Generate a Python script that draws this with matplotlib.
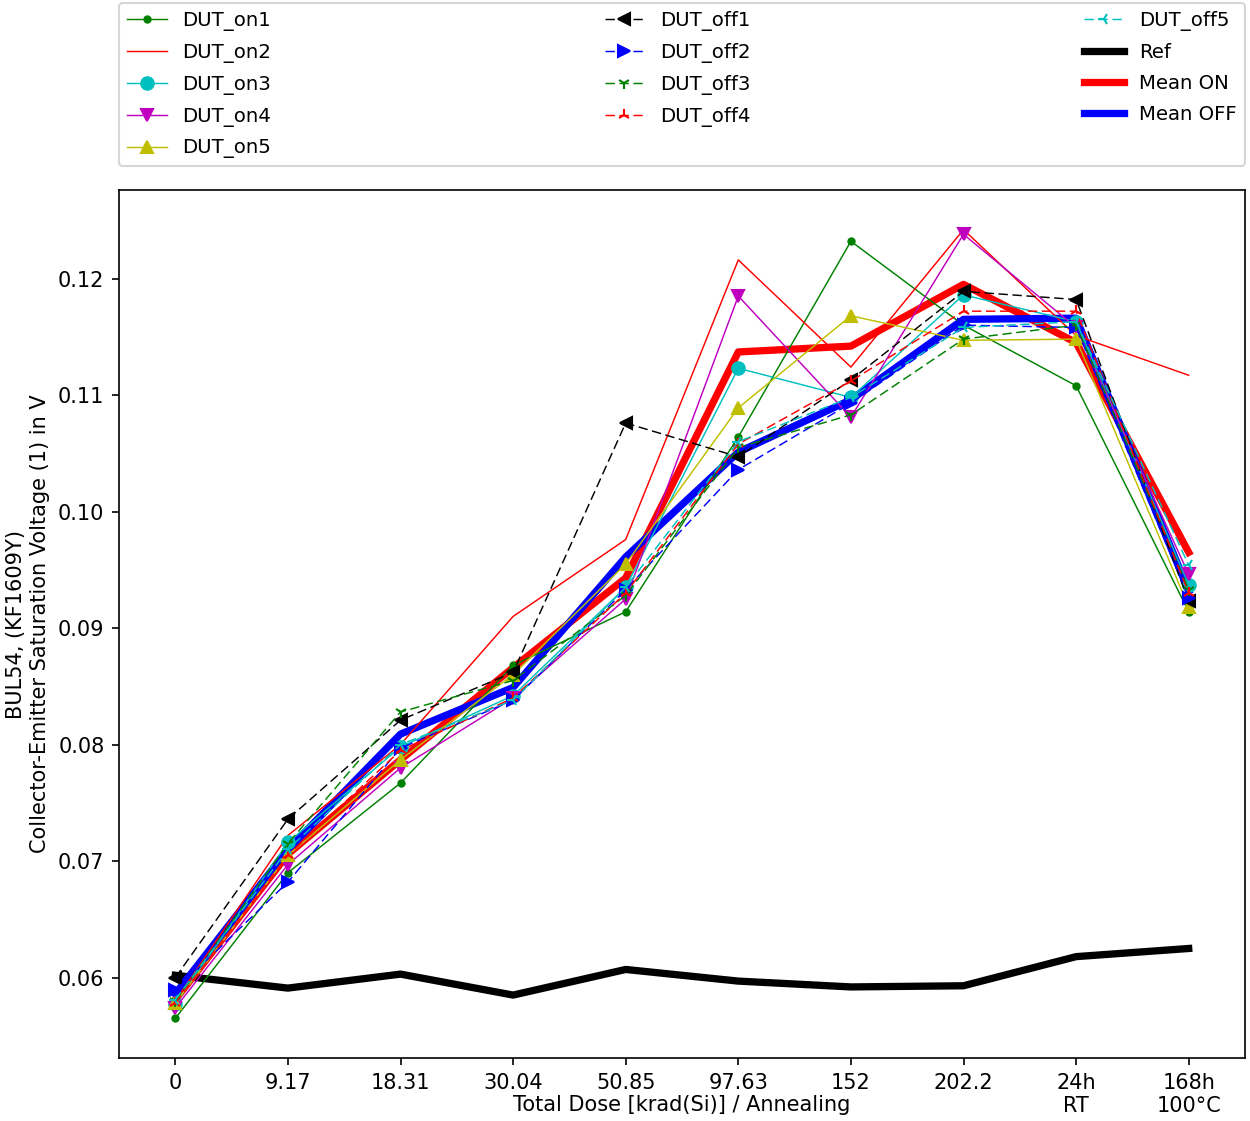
import matplotlib
matplotlib.use("Agg")
import matplotlib.pyplot as plt
import numpy as np

steps = ['0', '9.17', '18.31', '30.04', '50.85', '97.63', '152', '202.2',
         '24h\nRT', '168h\n100°C']

# values (V)
dut_on1 = [0.0565, 0.0690, 0.0767, 0.0868, 0.0914, 0.1064, 0.1232, 0.1160, 0.1108, 0.0914]
dut_on2 = [0.0580, 0.0722, 0.0800, 0.0910, 0.0976, 0.1216, 0.1124, 0.1242, 0.1151, 0.1117]
dut_on3 = [0.0577, 0.0716, 0.0798, 0.0842, 0.0935, 0.1123, 0.1098, 0.1186, 0.1163, 0.0937]
dut_on4 = [0.0574, 0.0697, 0.0780, 0.0840, 0.0925, 0.1185, 0.1081, 0.1238, 0.1158, 0.0946]
dut_on5 = [0.0578, 0.0705, 0.0787, 0.0860, 0.0955, 0.1089, 0.1168, 0.1147, 0.1148, 0.0918]

dut_off1 = [0.0600, 0.0736, 0.0821, 0.0862, 0.1076, 0.1047, 0.1113, 0.1189, 0.1182, 0.0923]
dut_off2 = [0.0589, 0.0682, 0.0797, 0.0838, 0.0933, 0.1036, 0.1093, 0.1160, 0.1158, 0.0926]
dut_off3 = [0.0580, 0.0715, 0.0828, 0.0855, 0.0928, 0.1055, 0.1083, 0.1148, 0.1160, 0.0933]
dut_off4 = [0.0578, 0.0705, 0.0795, 0.0840, 0.0930, 0.1058, 0.1112, 0.1172, 0.1172, 0.0930]
dut_off5 = [0.0581, 0.0710, 0.0800, 0.0838, 0.0935, 0.1060, 0.1098, 0.1158, 0.1163, 0.0954]

ref = [0.0602, 0.0591, 0.0603, 0.0585, 0.0607, 0.0597, 0.0592, 0.0593, 0.0618, 0.0625]
mean_on = [0.0581, 0.0706, 0.0787, 0.0866, 0.0943, 0.1137, 0.1142, 0.1195, 0.1145, 0.0965]
mean_off = [0.0586, 0.0710, 0.0809, 0.0849, 0.0961, 0.1051, 0.1096, 0.1165, 0.1166, 0.0932]

x = np.arange(len(steps))

plt.rcParams['lines.scale_dashes'] = False
plt.rcParams['lines.dashed_pattern'] = [4.5, 2.2]

fig = plt.figure(figsize=(1250 / 150, 1121 / 150), dpi=150)
ax = fig.add_axes([0.0952, 0.0562, 0.9008, 0.7743])

on_series = [('DUT_on1', dut_on1, 'g.-'), ('DUT_on2', dut_on2, 'r-'),
             ('DUT_on3', dut_on3, 'co-'), ('DUT_on4', dut_on4, 'mv-'),
             ('DUT_on5', dut_on5, 'y^-')]
off_series = [('DUT_off1', dut_off1, 'k<--'), ('DUT_off2', dut_off2, 'b>--'),
              ('DUT_off3', dut_off3, 'g1--'), ('DUT_off4', dut_off4, 'r2--'),
              ('DUT_off5', dut_off5, 'c3--')]

handles = []
for name, vals, fmt in on_series + off_series:
    h, = ax.plot(x, vals, fmt, lw=0.7, label=name, zorder=3)
    handles.append(h)

h_ref, = ax.plot(x, ref, 'k-', lw=3.5, label='Ref')
h_on, = ax.plot(x, mean_on, 'r-', lw=3.5, label='Mean ON')
h_off, = ax.plot(x, mean_off, 'b-', lw=3.5, label='Mean OFF')
handles += [h_ref, h_on, h_off]

ax.set_xlim(-0.5, 9.5)
ax.set_ylim(0.0531, 0.1276)
ax.set_xticks(x)
ax.set_xticklabels(steps)
ax.set_xlabel('Total Dose [krad(Si)] / Annealing')
ax.xaxis.set_label_coords(0.5, -0.043)
ax.set_ylabel('BUL54, (KF1609Y)\nCollector-Emitter Saturation Voltage (1) in V')

fig.legend(handles=handles, loc='upper left', ncol=3, mode='expand',
           bbox_to_anchor=(0.0952, 0.0, 0.9008, 0.9973),
           bbox_transform=fig.transFigure, borderaxespad=0, fontsize=9.5,
           labelspacing=0.6)

fig.savefig('out.png', dpi=150)
